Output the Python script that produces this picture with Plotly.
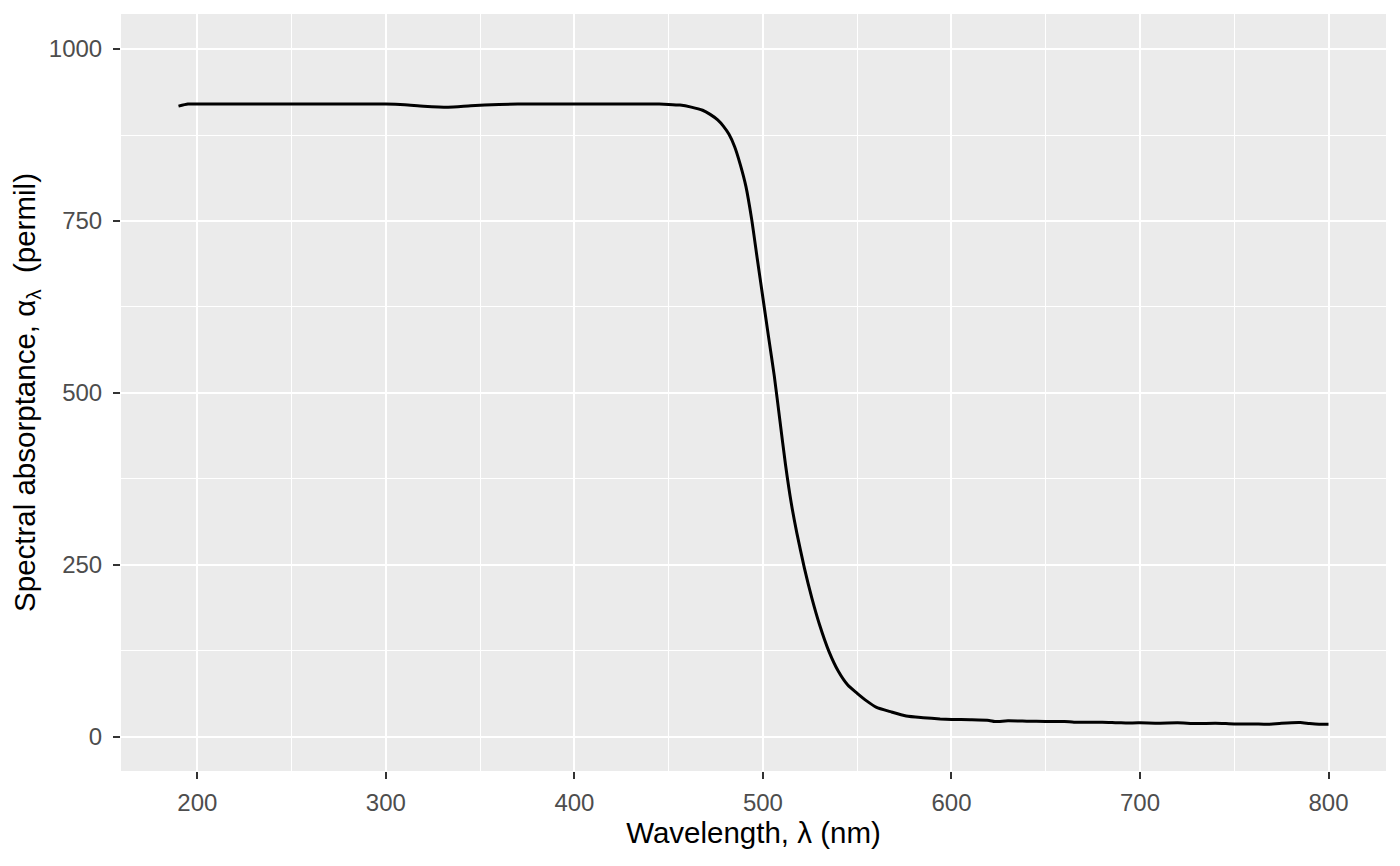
import plotly.graph_objects as go

# spectral absorptance (wavelength in nm, value in permil)
wavelength = [190, 195, 200, 250, 300, 310, 320, 333, 345, 360, 370, 400, 445, 450,
              456, 462, 468, 472, 476, 479, 482, 485, 488, 491, 494, 497, 500, 503,
              506, 509, 512, 515, 518, 522, 526, 530, 535, 540, 545, 550, 555, 560,
              568, 576, 585, 594, 600, 610, 620, 623, 630, 640, 650, 660, 665, 680,
              690, 700, 710, 720, 730, 740, 750, 760, 768, 775, 785, 790, 795, 800]
absorptance = [917, 920, 920, 920, 920, 919, 917, 915.5, 917.5, 919.5, 920, 920, 920, 919.5,
               918.5, 915.5, 911, 905, 897, 888, 876, 858, 832, 800, 753, 695, 638, 581,
               525, 460, 395, 340, 296, 245, 201, 163, 124, 95, 75, 63, 52, 43,
               36, 30, 27.5, 25.7, 25, 24.5, 23.5, 22, 23, 22.5, 22, 22, 21, 21,
               20, 20, 19.5, 20, 19, 19.5, 18.5, 18.5, 18, 19.5, 20.5, 19, 18, 18]

x_ticks = [200, 300, 400, 500, 600, 700, 800]
y_ticks = [0, 250, 500, 750, 1000]

fnt = "Liberation Sans, Arial, sans-serif"

fig = go.Figure()
fig.add_trace(go.Scatter(
    x=wavelength, y=absorptance,
    mode="lines",
    line=dict(color="black", width=3, shape="spline", smoothing=0.6),
    showlegend=False,
    hoverinfo="skip",
))

axis_common = dict(
    showgrid=True, gridcolor="white", gridwidth=2.4,
    zeroline=False, showline=False,
    ticks="outside", ticklen=7, tickwidth=2, tickcolor="#333333",
    tickfont=dict(family=fnt, size=24, color="#4D4D4D"),
)

# page body has an 8px margin, so the figure is shrunk and margins shifted to match
fig.update_layout(
    width=1392, height=858,
    paper_bgcolor="white", plot_bgcolor="#EBEBEB",
    margin=dict(l=113, r=14, t=6, b=95),
    font=dict(family=fnt),
    xaxis=dict(
        range=[159.5, 830.5], tickvals=x_ticks,
        minor=dict(dtick=50, tick0=0, showgrid=True, gridcolor="white", gridwidth=1.2, ticks=""),
        title=dict(text="Wavelength, λ (nm)", font=dict(family=fnt, size=29.5, color="black"), standoff=6),
        ticklabelstandoff=3,
        **axis_common,
    ),
    yaxis=dict(
        range=[-50, 1051], tickvals=y_ticks,
        minor=dict(dtick=125, tick0=0, showgrid=True, gridcolor="white", gridwidth=1.2, ticks=""),
        title=dict(text="Spectral absorptance, α<sub>λ</sub>&nbsp; (permil)",
                   font=dict(family=fnt, size=29.5, color="black"), standoff=8),
        ticklabelstandoff=6,
        **axis_common,
    ),
)

fig.write_html("out.html")
